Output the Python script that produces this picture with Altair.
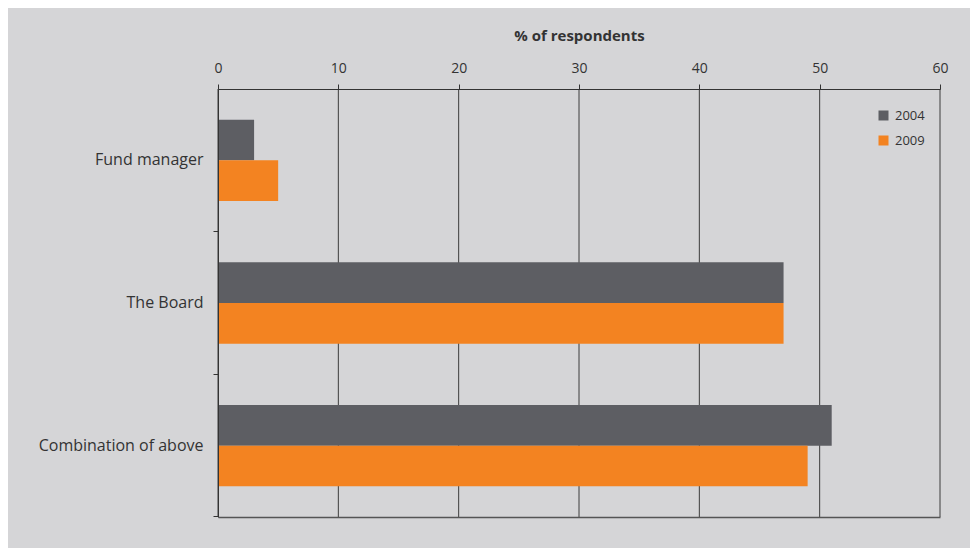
import altair as alt
import pandas as pd

categories = ["Fund manager", "The Board", "Combination of above"]
years = ["2004", "2009"]
values_2004 = [3, 47, 51]
values_2009 = [5, 47, 49]
x_ticks = [0, 10, 20, 30, 40, 50, 60]
colors = ["#5d5e63", "#f38321"]

rows = []
for c, v in zip(categories, values_2004):
    rows.append({"category": c, "year": "2004", "value": v})
for c, v in zip(categories, values_2009):
    rows.append({"category": c, "year": "2009", "value": v})
df = pd.DataFrame(rows)

FONT = "Open Sans"
TXT = "#333333"

xscale = alt.Scale(domain=[0, 60], nice=False, zero=True)

bg = alt.Chart(pd.DataFrame({"k": [0]})).mark_rect(color="#d5d5d7").encode(
    x=alt.value(-210), x2=alt.value(760), y=alt.value(-81), y2=alt.value(470)
)

grid = alt.Chart(pd.DataFrame({"t": x_ticks})).mark_rule(
    color="#3c3c3c", strokeWidth=1
).encode(
    x=alt.X(
        "t:Q",
        scale=xscale,
        axis=alt.Axis(
            orient="bottom", labels=False, ticks=False, grid=False,
            domain=True, domainColor="#555555", domainWidth=1.5, title=None,
            zindex=1,
        ),
    )
)

bars = alt.Chart(df).mark_bar().encode(
    y=alt.Y(
        "category:N",
        sort=categories,
        scale=alt.Scale(paddingInner=0.43, paddingOuter=0.215),
        axis=alt.Axis(
            title=None, bandPosition=1.377, tickSize=5,
            labelPadding=10, labelFontSize=16, labelColor=TXT, labelFont=FONT,
            domainColor=TXT, tickColor=TXT, grid=False, zindex=1,
        ),
    ),
    yOffset=alt.YOffset("year:N", sort=years, scale=alt.Scale(paddingInner=0, paddingOuter=0)),
    x=alt.X(
        "value:Q",
        scale=xscale,
        axis=alt.Axis(
            orient="top", values=x_ticks, title="% of respondents",
            titleFont=FONT, titleFontSize=15, titleFontWeight="bold", titleColor=TXT,
            titlePadding=18, labelFont=FONT, labelFontSize=14, labelColor=TXT,
            labelPadding=9, labelFlush=False, tickSize=5, tickColor=TXT,
            domainColor=TXT, grid=False, zindex=1,
        ),
    ),
    color=alt.Color(
        "year:N",
        scale=alt.Scale(domain=years, range=colors),
        legend=alt.Legend(
            title=None, orient="none", legendX=659, legendY=20,
            symbolType="square", symbolSize=100, symbolStrokeWidth=0,
            labelFont=FONT, labelFontSize=13, labelColor=TXT, labelOffset=5,
            rowPadding=11, padding=0,
        ),
    ),
)

chart = (
    alt.layer(bg, grid, bars)
    .resolve_axis(x="independent")
    .properties(
        width=722,
        height=428,
        padding={"left": 218, "top": 89, "right": 30, "bottom": 31},
        autosize=alt.AutoSizeParams(type="none"),
        background="white",
    )
    .configure_view(stroke=None)
)

chart.save("out.html", embed_options={"renderer": "svg", "actions": False})
